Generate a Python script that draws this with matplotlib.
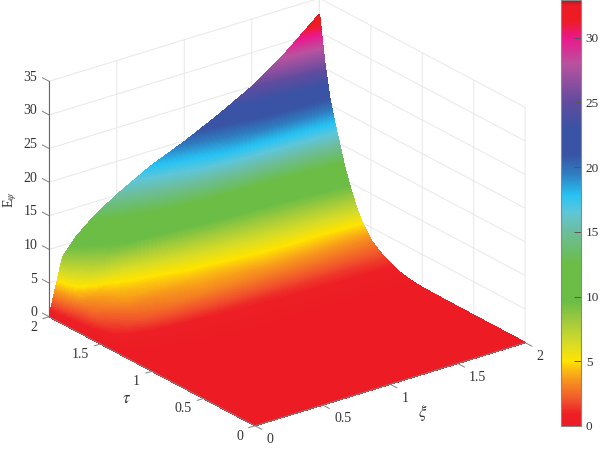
import numpy as np
import matplotlib
matplotlib.use("Agg")
import matplotlib.pyplot as plt
from matplotlib.colors import LinearSegmentedColormap, Normalize
from matplotlib.cm import ScalarMappable
from matplotlib.tri import Triangulation
from mpl_toolkits.mplot3d import proj3d

plt.rcParams['font.family'] = ['Liberation Serif', 'DejaVu Serif']
plt.rcParams['mathtext.fontset'] = 'stix'

# values
xi = [0, 0.1, 0.2, 0.3, 0.4, 0.5, 0.75, 1, 1.25, 1.5, 1.75, 2]
tau = [0, 0.25, 0.5, 0.75, 1, 1.125, 1.25, 1.375, 1.5, 1.6, 1.65, 1.7, 1.75, 1.8, 1.85, 1.9, 1.95, 2]
E = [
    [0, 0, 0, 0, 0, 0, 0, 0, 0, 0, 0, 0],
    [0, 0, 0, 0, 0, 0, 0, 0, 0, 0, 0, 0],
    [0, 0, 0, 0, 0.01, 0.01, 0.01, 0.01, 0.01, 0.01, 0.01, 0.01],
    [0, 0.01, 0.01, 0.02, 0.02, 0.02, 0.02, 0.02, 0.02, 0.02, 0.02, 0.02],
    [0, 0.02, 0.03, 0.04, 0.05, 0.05, 0.06, 0.06, 0.06, 0.06, 0.06, 0.08],
    [0, 0.05, 0.1, 0.1, 0.15, 0.15, 0.2, 0.2, 0.2, 0.2, 0.22, 0.25],
    [0, 0.15, 0.2, 0.25, 0.3, 0.35, 0.45, 0.5, 0.55, 0.6, 0.65, 0.7],
    [0, 0.3, 0.4, 0.5, 0.7, 0.85, 1.1, 1.2, 1.3, 1.4, 1.45, 1.6],
    [0, 1, 1.6, 2.2, 2.5, 2.8, 3.2, 3.3, 3.3, 3.3, 3.2, 3.1],
    [0, 1.6, 2.4, 3, 3.2, 3.5, 4.1, 4.3, 4.9, 5, 5, 5.4],
    [0, 2, 2.8, 3.7, 3.9, 4.1, 4.7, 5.1, 5.8, 6.2, 6.4, 7.2],
    [0, 2.5, 3.3, 4, 4.3, 4.5, 5.4, 6.2, 7, 7.6, 8.2, 9.3],
    [0, 2.7, 3.6, 4.4, 4.9, 5.3, 6.7, 7.8, 8.6, 9.3, 10.3, 11.6],
    [0, 3.2, 4.2, 5.2, 5.8, 6.8, 8.8, 10.3, 11.2, 12, 13.2, 14.6],
    [0, 4.3, 6.8, 8.4, 9.6, 10.6, 12.3, 13.8, 15, 16, 16.8, 17.6],
    [0, 5.7, 7.9, 9.4, 10.7, 11.8, 14, 16.3, 18.3, 19.5, 20.3, 21],
    [0, 6.9, 9.2, 10.8, 12.2, 13.4, 15.8, 17.8, 19.8, 21.8, 23.8, 26],
    [0, 8.2, 10.6, 12.3, 13.7, 15, 17.7, 19.8, 22.2, 24.9, 28.4, 32.6],
]
axis_ticks = [0, 0.5, 1, 1.5, 2]
axis_labels = ['0', '0.5', '1', '1.5', '2']
z_ticks = [0, 5, 10, 15, 20, 25, 30, 35]
bar_ticks = [0, 5, 10, 15, 20, 25, 30]
E_MAX = 32.9

# colour stops: (E value, colour)
stops = [(0, '#ed1c24'), (0.9, '#ed1f25'), (1.9, '#f0502c'), (3.5, '#f7941e'), (4.3, '#fcbb12'), (5, '#ffe400'),
         (6.3, '#d8dc25'), (8, '#a3cb3c'), (9.6, '#6bbd45'), (12.5, '#6bbd45'), (15, '#6cbd9c'), (16.5, '#5fc6d8'),
         (17.8, '#27c3f3'), (19.5, '#2f7cc0'), (21, '#3954a4'), (23, '#3a53a4'), (25, '#5f4b9f'),
         (28, '#b9529f'), (30, '#ec178c'), (31.3, '#ed1c24'), (32.5, '#ed1c24'), (32.9, '#a01a20')]
cmap = LinearSegmentedColormap.from_list('bands', [(v / E_MAX, c) for v, c in stops], N=512)
norm = Normalize(0, E_MAX)

fig = plt.figure(figsize=(6, 4.49), dpi=100)


def to_pixels(x, y, z):
    sx, sy, _ = proj3d.proj_transform(np.ravel(x), np.ravel(y), np.ravel(z), ax.get_proj())
    return ax.transData.transform(np.column_stack([sx, sy]))


# 3D frame
ax = fig.add_axes([0, 0, 1, 1], projection='3d', proj_type='ortho')
ax.set_xlim(0, 2)
ax.set_ylim(0, 2)
ax.set_zlim(0, 35)
ax.view_init(elev=23.8, azim=-127.3)
BOX = (340, 340, 257.5)
ax.set_box_aspect(BOX, zoom=1.0)
ax.patch.set_alpha(0)

ax.set_xticks(axis_ticks, [''] * len(axis_ticks))
ax.set_yticks(axis_ticks, [''] * len(axis_ticks))
ax.set_zticks(z_ticks, [''] * len(z_ticks))
for a in (ax.xaxis, ax.yaxis, ax.zaxis):
    a.set_pane_color((1, 1, 1, 0))
    a.pane.set_edgecolor((1, 1, 1, 0))
    a.line.set_color('#666666')
    a.line.set_linewidth(0.8)
    a._axinfo['grid'].update(color='#e8e8e8', linewidth=0.7)
    a._axinfo['tick'].update(inward_factor=0.0, outward_factor=0.0)

# scale and place the box so its floor corners land where the reference has them
fig.canvas.draw()
p = to_pixels([0, 2], [2, 0], [0, 0])
ax.set_box_aspect(BOX, zoom=476 / (p[1, 0] - p[0, 0]))
fig.canvas.draw()
p = to_pixels([0], [0], [0])[0]
ax.set_position([(255 - p[0]) / 600, (23.3 - p[1]) / 449, 1, 1])
fig.canvas.draw()

# surface: project the table with the 3D axes, colour it in a pixel overlay
X, Y = np.meshgrid(xi, tau)
Z = np.array(E, dtype=float)
pix = to_pixels(X, Y, Z)

n_tau, n_xi = Z.shape
tris = []
for i in range(n_tau - 1):
    for j in range(n_xi - 1):
        a0 = i * n_xi + j
        tris.append([a0, a0 + 1, a0 + n_xi])
        tris.append([a0 + 1, a0 + n_xi + 1, a0 + n_xi])
tri = Triangulation(pix[:, 0], pix[:, 1], triangles=tris)

over = fig.add_axes([0, 0, 1, 1], facecolor='none')
over.set_xlim(0, 600)
over.set_ylim(0, 449)
over.axis('off')
cs = over.tricontourf(tri, Z.ravel(), levels=np.linspace(0, 33.05, 260), cmap=cmap, norm=norm)
cs.set_edgecolor('face')
cs.set_linewidth(0.4)


def seg(start, end, lw=0.7):
    a, b = to_pixels(*zip(start, end))
    over.plot([a[0], b[0]], [a[1], b[1]], color='#808080', lw=lw, solid_capstyle='butt')


# front floor edges and tick marks
seg((0, 0, 0), (2, 0, 0))
seg((0, 0, 0), (0, 2, 0))
for t in axis_ticks:
    seg((t, 0, 0), (t, -0.07, 0))
    seg((0, t, 0), (-0.05, t, 0))
for t in z_ticks:
    seg((0, 2, t), (0, 2.07, t))

# tick labels, placed from the projected tick positions
TEXT = dict(fontsize=10, color='#333333', textcoords='offset pixels', va='center')
for t, s in zip(axis_ticks, axis_labels):
    over.annotate(s, to_pixels([t], [0], [0])[0], xytext=(11.5, -14), ha='left', **TEXT)
    over.annotate(s, to_pixels([0], [t], [0])[0], xytext=(-12, -10.5), ha='right', **TEXT)
for t in z_ticks:
    over.annotate(str(t), to_pixels([0], [2], [t])[0], xytext=(-12, 4), ha='right', **TEXT)

fig.text(10 / 600, 1 - 199 / 449, r'E$_{\psi}$', rotation=90, fontsize=10, color='#333333', ha='center', va='center')
fig.text(127 / 600, 1 - 399 / 449, r'$\tau$', fontsize=12, color='#333333', ha='center', va='center')
fig.text(423 / 600, 1 - 413 / 449, r'$\xi$', fontsize=12, color='#333333', ha='center', va='center')

# colorbar
cax = fig.add_axes([561 / 600, 1 - 426 / 449, 20 / 600, 426 / 449])
cb = fig.colorbar(ScalarMappable(norm=norm, cmap=cmap), cax=cax)
cb.set_ticks(bar_ticks)
cb.ax.tick_params(direction='in', length=5, width=0.7, color='#555555', labelsize=9.5, labelcolor='#333333', pad=3.5)
cb.outline.set_edgecolor('#888888')
cb.outline.set_linewidth(0.8)

fig.savefig('out.png', dpi=100)
